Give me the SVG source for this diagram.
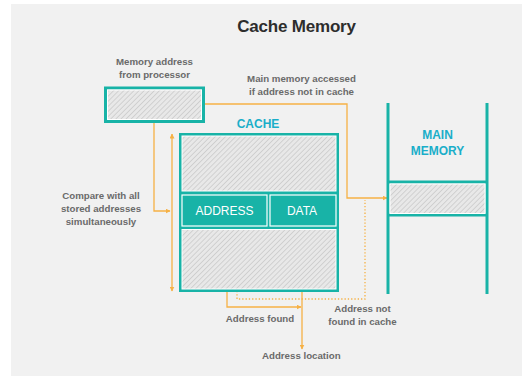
<svg xmlns="http://www.w3.org/2000/svg" width="522" height="376" viewBox="0 0 522 376">
<style>
.lbl{font-family:"Liberation Sans",Arial,sans-serif;font-weight:bold;font-size:9.7px;fill:#6a6a6a;text-anchor:middle}
.hd{font-family:"Liberation Sans",Arial,sans-serif;font-weight:bold;font-size:12px;fill:#1aaec9;text-anchor:middle}
.bx{font-family:"Liberation Sans",Arial,sans-serif;font-size:12px;fill:#ffffff;text-anchor:middle}
.hatch{fill:url(#hp);stroke:#ffffff;stroke-width:1}
.teal{fill:#18b3a7}
.tl{stroke:#18b3a7;stroke-width:3;fill:none}
.con{fill:none;stroke:#f6b145;stroke-width:1.3}
</style>
<defs>
<pattern id="hp" width="3.6" height="3.6" patternUnits="userSpaceOnUse" patternTransform="rotate(45)">
<rect width="3.6" height="3.6" fill="#e8e8e8"/>
<line x1="0" y1="0" x2="0" y2="3.6" stroke="#bdbdbd" stroke-width="1.1"/>
</pattern>
<marker id="arr" viewBox="0 0 10 10" refX="9" refY="5" markerWidth="5" markerHeight="5" orient="auto-start-reverse" markerUnits="userSpaceOnUse">
<path d="M0,0 L10,5 L0,10 z" fill="#f6b145"/>
</marker>
</defs>
<rect x="0" y="0" width="522" height="376" fill="#ffffff"/>
<rect x="11" y="4" width="511" height="372" fill="#f1f1f1"/>
<text x="296.5" y="31.7" font-family="Liberation Sans,Arial,sans-serif" font-weight="bold" font-size="17" fill="#2d2d2d" text-anchor="middle" letter-spacing="-0.2">Cache Memory</text>

<g id="connectors">
<path class="con" d="M205,104 H347 V198 H387" marker-end="url(#arr)"/>
<path class="con" d="M154,123 V211 H170" marker-end="url(#arr)"/>
<path class="con" d="M172,134 V291" marker-start="url(#arr)" marker-end="url(#arr)"/>
<path class="con" d="M227,226 V307 H301" marker-end="url(#arr)"/>
<path class="con" d="M302,219 V349" marker-start="url(#arr)" marker-end="url(#arr)"/>
<path class="con" d="M237,291 V299 H365 V200" stroke-dasharray="1.3 2"/>
</g>

<g id="processor">
<rect x="105.5" y="88" width="98" height="33.5" class="tl"/>
<rect x="107.5" y="90" width="94" height="29.5" class="hatch"/>
<text class="lbl" x="154.5" y="64.5">Memory address</text>
<text class="lbl" x="154.5" y="77.7">from processor</text>
</g>

<g id="cache">
<text class="hd" x="258" y="128">CACHE</text>
<rect x="179" y="133" width="160" height="159" class="teal"/>
<rect x="182" y="136" width="154" height="55" class="hatch"/>
<rect x="182" y="229.5" width="154" height="59.5" class="hatch"/>
</g>
<g id="address">
<rect x="182" y="195" width="85" height="31" class="teal" stroke="#ffffff" stroke-width="1.2"/>
<text class="bx" x="224.5" y="214.5">ADDRESS</text>
</g>
<g id="data">
<rect x="270" y="195" width="66" height="31" class="teal" stroke="#ffffff" stroke-width="1.2"/>
<text class="bx" x="302" y="214.5">DATA</text>
</g>

<g id="main-memory">
<line x1="388" y1="103" x2="388" y2="294" class="tl"/>
<line x1="487" y1="103" x2="487" y2="294" class="tl"/>
<line x1="388" y1="182" x2="487" y2="182" class="tl"/>
<line x1="388" y1="215" x2="487" y2="215" class="tl"/>
<rect x="390" y="184" width="95" height="29.5" class="hatch"/>
<text class="hd" x="437.5" y="139.3">MAIN</text>
<text class="hd" x="437.5" y="154.7">MEMORY</text>
</g>

<g id="labels">
<text class="lbl" x="301.5" y="82.3">Main memory accessed</text>
<text class="lbl" x="301.5" y="95">if address not in cache</text>
<text class="lbl" x="101" y="199">Compare with all</text>
<text class="lbl" x="101" y="212.3">stored addresses</text>
<text class="lbl" x="101" y="225">simultaneously</text>
<text class="lbl" x="260" y="322.3">Address found</text>
<text class="lbl" x="362.5" y="312">Address not</text>
<text class="lbl" x="362.5" y="324.7">found in cache</text>
<text class="lbl" x="301.3" y="359.3">Address location</text>
</g>
</svg>
